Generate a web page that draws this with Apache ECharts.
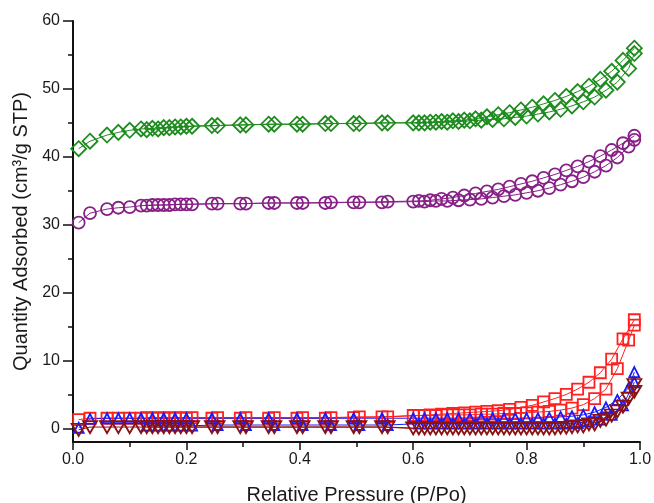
<!DOCTYPE html>
<html>
<head>
<meta charset="utf-8">
<script src="https://cdn.jsdelivr.net/npm/echarts@6/dist/echarts.min.js"></script>
<style>
  html, body { margin: 0; padding: 0; background: #fff; }
  #chart { width: 654px; height: 503px; }
</style>
</head>
<body>
<div id="chart"></div>
<script>
// relative pressure points, adsorption branch (up) and desorption branch (down)
const adsP = [0.01,0.03,0.06,0.08,0.10,0.12,0.14,0.16,0.18,0.20,
  0.245,0.295,0.345,0.395,0.445,0.495,0.545,
  0.60,0.62,0.64,0.66,0.68,0.70,0.72,0.74,0.76,0.78,0.80,0.82,0.84,0.86,0.88,0.90,0.92,0.94,0.96,0.98,0.99];
const desP = [0.99,0.97,0.95,0.93,0.91,0.89,0.87,0.85,0.83,0.81,0.79,0.77,0.75,0.73,0.71,0.69,0.67,0.65,0.63,0.61,
  0.555,0.505,0.455,0.405,0.355,0.305,0.255,
  0.21,0.19,0.17,0.15,0.13];

// quantity adsorbed (cm3/g STP)
const greenAds = [41.2,42.3,43.2,43.6,43.9,44.1,44.2,44.3,44.4,44.5,
  44.6,44.7,44.8,44.8,44.9,44.9,45.0,
  45.0,45.0,45.1,45.1,45.2,45.3,45.4,45.5,45.6,45.8,46.0,46.3,46.6,47.0,47.5,48.1,48.8,49.8,51.0,53.0,55.2];
const greenDes = [56.0,54.2,52.6,51.4,50.4,49.6,48.9,48.3,47.8,47.3,46.9,46.5,46.2,45.9,45.6,45.4,45.3,45.2,45.1,45.0,
  45.0,44.9,44.9,44.8,44.8,44.7,44.6,
  44.5,44.4,44.3,44.1,44.0];

const purpleAds = [30.3,31.7,32.3,32.5,32.6,32.8,32.9,32.9,33.0,33.0,
  33.1,33.1,33.2,33.2,33.2,33.3,33.3,
  33.4,33.4,33.5,33.5,33.6,33.7,33.8,34.0,34.2,34.4,34.7,35.0,35.4,35.9,36.4,37.0,37.8,38.7,39.9,41.5,42.5];
const purpleDes = [43.1,42.0,41.0,40.1,39.3,38.6,38.0,37.4,36.9,36.4,36.0,35.6,35.2,34.9,34.6,34.3,34.0,33.8,33.6,33.5,
  33.4,33.3,33.3,33.2,33.2,33.1,33.1,
  33.0,33.0,32.9,32.9,32.8];

const redAds = [1.3,1.5,1.5,1.5,1.5,1.5,1.5,1.5,1.5,1.5,
  1.5,1.5,1.5,1.5,1.5,1.6,1.7,
  1.9,1.9,1.9,2.0,2.0,2.0,2.1,2.1,2.2,2.2,2.3,2.4,2.5,2.7,3.0,3.5,4.4,5.8,8.8,13.0,15.2];
const redDes = [16.0,13.2,10.2,8.2,6.8,5.8,5.0,4.4,3.9,3.4,3.1,2.8,2.6,2.5,2.4,2.3,2.2,2.1,2.0,1.9,
  1.7,1.7,1.6,1.6,1.6,1.6,1.6,
  1.6,1.6,1.6,1.6,1.6];

const blueAds = [0.1,1.4,1.5,1.5,1.5,1.5,1.5,1.5,1.5,1.5,
  1.5,1.5,1.5,1.5,1.5,1.5,1.5,
  1.5,1.5,1.5,1.5,1.5,1.5,1.5,1.5,1.5,1.5,1.5,1.5,1.6,1.7,1.8,2.0,2.4,3.1,4.2,6.0,8.3];
const blueDes = [6.8,3.4,2.0,1.3,1.0,0.8,0.7,0.7,0.7,0.7,0.7,0.7,0.7,0.7,0.7,0.7,0.7,0.7,0.7,0.7,
  0.5,0.5,0.5,0.5,0.5,0.5,0.5,
  0.4,0.4,0.4,0.4,0.4];

const brownAds = [-0.2,0.2,0.2,0.2,0.2,0.2,0.2,0.2,0.2,0.2,
  0.2,0.2,0.2,0.2,0.2,0.2,0.2,
  0.0,0.0,0.0,0.0,0.0,0.0,0.0,0.0,0.0,0.0,0.0,0.0,0.0,0.1,0.2,0.3,0.6,1.3,2.5,4.4,6.4];
const brownDes = [5.4,3.2,1.9,1.1,0.6,0.3,0.1,0.0,0.0,0.0,0.0,0.0,0.0,0.0,0.0,0.0,0.0,0.0,0.0,0.0,
  0.2,0.2,0.2,0.2,0.2,0.2,0.2,
  0.2,0.2,0.2,0.2,0.2];

// axis ticks
const yTicks = [0,10,20,30,40,50,60];
const yMinor = [5,15,25,35,45,55];

const font = '"Liberation Sans", Arial, sans-serif';

function pairs(p, v) {
  return p.map((x, i) => [x, v[i]]);
}

// name, colour, symbol, size, rotate, ads, des
const samples = [
  ['green', '#1f8c1f', 'diamond', 15, 0, greenAds, greenDes],
  ['purple', '#862086', 'circle', 12, 0, purpleAds, purpleDes],
  ['red', '#ff2020', 'rect', 11, 0, redAds, redDes],
  ['blue', '#1a1aff', 'triangle', 10, 0, blueAds, blueDes],
  ['brown', '#8b1212', 'triangle', [14, 12], 180, brownAds, brownDes]
];

const series = [];
samples.forEach(s => {
  [[adsP, s[5]], [desP, s[6]]].forEach(b => {
    series.push({
      name: s[0],
      type: 'line',
      data: pairs(b[0], b[1]),
      symbol: s[2],
      symbolSize: s[3],
      symbolRotate: s[4],
      showAllSymbol: true,
      itemStyle: { color: 'rgba(0,0,0,0)', borderColor: s[1], borderWidth: 1.8 },
      lineStyle: { color: s[1], width: 1 },
      emphasis: { disabled: true }
    });
  });
});

const myChart = echarts.init(document.getElementById('chart'));
const option = {
  animation: false,
  backgroundColor: '#fff',
  grid: { left: 73, right: 14, top: 21, bottom: 61, containLabel: false, outerBoundsMode: 'none' },
  xAxis: {
    type: 'value',
    min: 0,
    max: 1,
    interval: 0.2,
    name: 'Relative Pressure (P/Po)',
    nameLocation: 'middle',
    nameGap: 43,
    nameTextStyle: { fontFamily: font, fontSize: 20, color: '#1a1a1a' },
    axisLine: { onZero: false, lineStyle: { color: '#111', width: 2 } },
    axisTick: { length: 8, lineStyle: { color: '#111', width: 1.5 } },
    minorTick: { show: true, splitNumber: 2, length: 5, lineStyle: { color: '#111', width: 1.5 } },
    axisLabel: { margin: 10, fontFamily: font, fontSize: 16, color: '#1a1a1a', formatter: v => v.toFixed(1) },
    splitLine: { show: false }
  },
  yAxis: [{
    type: 'value',
    min: -2,
    max: 60,
    name: 'Quantity Adsorbed (cm³/g STP)',
    nameLocation: 'middle',
    nameGap: 42,
    nameTextStyle: { fontFamily: font, fontSize: 20, color: '#1a1a1a' },
    axisLine: { show: true, onZero: false, lineStyle: { color: '#111', width: 2 } },
    axisTick: { length: 10, customValues: yTicks, lineStyle: { color: '#111', width: 1.5 } },
    axisLabel: { margin: 13, customValues: yTicks, fontFamily: font, fontSize: 16, color: '#1a1a1a' },
    splitLine: { show: false }
  }, {
    type: 'value',
    min: -2,
    max: 60,
    position: 'left',
    axisLine: { show: false },
    axisTick: { show: true, length: 5, customValues: yMinor, lineStyle: { color: '#111', width: 1.5 } },
    axisLabel: { show: false },
    splitLine: { show: false }
  }],
  series: series
};
myChart.setOption(option);
</script>
</body>
</html>
